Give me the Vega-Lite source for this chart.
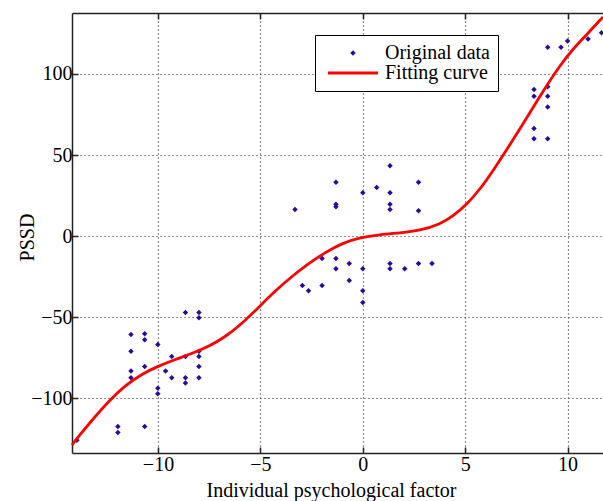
{
  "$schema": "https://vega.github.io/schema/vega-lite/v6.json",
  "autosize": {"type": "none"},
  "padding": {"left": 72, "top": 13, "right": 0, "bottom": 48},
  "width": 531,
  "height": 440,
  "background": "white",
  "config": {
    "view": {"stroke": null},
    "font": "Liberation Serif",
    "axis": {
      "labelFont": "Liberation Serif",
      "labelFontSize": 20,
      "labelColor": "black",
      "titleFont": "Liberation Serif",
      "titleFontSize": 20,
      "titleFontWeight": "normal",
      "titleColor": "black",
      "domainColor": "#222",
      "domainWidth": 1.5,
      "tickColor": "#222",
      "tickWidth": 1.5,
      "tickSize": -6,
      "gridColor": "#222",
      "gridDash": [1, 3],
      "gridWidth": 1.2,
      "gridOpacity": 1
    },
    "legend": {
      "labelFont": "Liberation Serif",
      "labelFontSize": 20,
      "labelColor": "black"
    }
  },
  "datasets": {
    "pts": [
      {"x": -11.32, "y": -60.6, "series": "Original data"},
      {"x": -11.32, "y": -70.9, "series": "Original data"},
      {"x": -11.32, "y": -83.2, "series": "Original data"},
      {"x": -11.32, "y": -87.3, "series": "Original data"},
      {"x": -10.65, "y": -60.2, "series": "Original data"},
      {"x": -10.65, "y": -63.9, "series": "Original data"},
      {"x": -10.65, "y": -80.4, "series": "Original data"},
      {"x": -10.01, "y": -66.8, "series": "Original data"},
      {"x": -10.01, "y": -93.7, "series": "Original data"},
      {"x": -10.01, "y": -97.2, "series": "Original data"},
      {"x": -9.63, "y": -83.2, "series": "Original data"},
      {"x": -9.33, "y": -74.2, "series": "Original data"},
      {"x": -9.33, "y": -87.3, "series": "Original data"},
      {"x": -8.66, "y": -47.1, "series": "Original data"},
      {"x": -8.66, "y": -74.2, "series": "Original data"},
      {"x": -8.66, "y": -87.3, "series": "Original data"},
      {"x": -8.66, "y": -90.6, "series": "Original data"},
      {"x": -8.0, "y": -47.1, "series": "Original data"},
      {"x": -8.0, "y": -50.3, "series": "Original data"},
      {"x": -8.0, "y": -70.9, "series": "Original data"},
      {"x": -8.0, "y": -74.2, "series": "Original data"},
      {"x": -8.0, "y": -80.4, "series": "Original data"},
      {"x": -8.0, "y": -87.3, "series": "Original data"},
      {"x": -11.96, "y": -117.3, "series": "Original data"},
      {"x": -11.96, "y": -121.0, "series": "Original data"},
      {"x": -10.65, "y": -117.3, "series": "Original data"},
      {"x": -13.96, "y": -125.8, "series": "Original data"},
      {"x": -3.31, "y": 16.4, "series": "Original data"},
      {"x": -1.31, "y": 33.3, "series": "Original data"},
      {"x": -1.31, "y": 19.7, "series": "Original data"},
      {"x": -1.31, "y": 18.1, "series": "Original data"},
      {"x": 0.0, "y": 26.7, "series": "Original data"},
      {"x": 0.68, "y": 30.0, "series": "Original data"},
      {"x": 1.33, "y": 43.4, "series": "Original data"},
      {"x": 1.33, "y": 26.7, "series": "Original data"},
      {"x": 1.33, "y": 19.7, "series": "Original data"},
      {"x": 1.33, "y": 16.4, "series": "Original data"},
      {"x": 2.72, "y": 33.3, "series": "Original data"},
      {"x": 2.72, "y": 15.6, "series": "Original data"},
      {"x": -1.99, "y": -13.8, "series": "Original data"},
      {"x": -1.31, "y": -13.8, "series": "Original data"},
      {"x": -1.31, "y": -20.1, "series": "Original data"},
      {"x": -0.66, "y": -16.9, "series": "Original data"},
      {"x": -0.66, "y": -27.3, "series": "Original data"},
      {"x": 0.0, "y": -20.1, "series": "Original data"},
      {"x": 0.0, "y": -33.7, "series": "Original data"},
      {"x": 0.0, "y": -40.9, "series": "Original data"},
      {"x": -2.95, "y": -30.4, "series": "Original data"},
      {"x": -2.65, "y": -33.7, "series": "Original data"},
      {"x": -1.99, "y": -30.4, "series": "Original data"},
      {"x": 1.33, "y": -16.9, "series": "Original data"},
      {"x": 1.33, "y": -20.1, "series": "Original data"},
      {"x": 2.05, "y": -20.1, "series": "Original data"},
      {"x": 2.72, "y": -16.9, "series": "Original data"},
      {"x": 3.38, "y": -16.9, "series": "Original data"},
      {"x": 8.36, "y": 90.4, "series": "Original data"},
      {"x": 8.36, "y": 86.3, "series": "Original data"},
      {"x": 8.36, "y": 66.4, "series": "Original data"},
      {"x": 8.36, "y": 60.0, "series": "Original data"},
      {"x": 9.03, "y": 116.5, "series": "Original data"},
      {"x": 9.03, "y": 92.1, "series": "Original data"},
      {"x": 9.03, "y": 86.3, "series": "Original data"},
      {"x": 9.03, "y": 79.7, "series": "Original data"},
      {"x": 9.03, "y": 60.0, "series": "Original data"},
      {"x": 9.68, "y": 116.5, "series": "Original data"},
      {"x": 10.0, "y": 120.4, "series": "Original data"},
      {"x": 11.0, "y": 121.6, "series": "Original data"},
      {"x": 11.66, "y": 125.4, "series": "Original data"}
    ],
    "curve": [
      {"x": -14.2, "y": -128.8},
      {"x": -14.03, "y": -125.8},
      {"x": -13.22, "y": -113.4},
      {"x": -12.4, "y": -101.6},
      {"x": -11.59, "y": -91.9},
      {"x": -10.78, "y": -84.9},
      {"x": -9.96, "y": -80.0},
      {"x": -9.15, "y": -76.0},
      {"x": -8.33, "y": -72.3},
      {"x": -7.52, "y": -68.0},
      {"x": -6.71, "y": -62.1},
      {"x": -5.89, "y": -53.8},
      {"x": -5.08, "y": -43.8},
      {"x": -4.27, "y": -33.6},
      {"x": -3.45, "y": -24.7},
      {"x": -2.64, "y": -16.8},
      {"x": -1.82, "y": -9.9},
      {"x": -1.01, "y": -4.4},
      {"x": -0.2, "y": -1.0},
      {"x": 0.84, "y": 1.0},
      {"x": 1.82, "y": 2.0},
      {"x": 2.79, "y": 3.5},
      {"x": 3.77, "y": 7.3},
      {"x": 4.42, "y": 12.5},
      {"x": 5.08, "y": 19.6},
      {"x": 5.73, "y": 29.0},
      {"x": 6.38, "y": 40.7},
      {"x": 7.03, "y": 53.3},
      {"x": 7.68, "y": 66.4},
      {"x": 8.33, "y": 79.7},
      {"x": 8.98, "y": 92.9},
      {"x": 9.63, "y": 105.2},
      {"x": 10.28, "y": 115.7},
      {"x": 10.94, "y": 124.3},
      {"x": 11.73, "y": 135.2}
    ]
  },
  "layer": [
    {
      "data": {"name": "pts"},
      "mark": {"type": "point", "shape": "diamond", "filled": true, "size": 30, "opacity": 1},
      "encoding": {
        "x": {
          "field": "x", "type": "quantitative",
          "scale": {"domain": [-14.2, 11.73], "nice": false, "zero": false},
          "axis": {
            "orient": "bottom",
            "values": [-10, -5, 0, 5, 10],
            "grid": true,
            "labelPadding": 7,
            "title": "Individual psychological factor",
            "titleX": 259,
            "titleY": 43,
            "titleBaseline": "alphabetic",
            "titleAnchor": null
          }
        },
        "y": {
          "field": "y", "type": "quantitative",
          "scale": {"domain": [-133.7, 137.6], "nice": false, "zero": false},
          "axis": {
            "orient": "left",
            "values": [-100, -50, 0, 50, 100],
            "grid": true,
            "labelPadding": 6,
            "title": "PSSD",
            "titleX": -39,
            "titleY": 224,
            "titleBaseline": "alphabetic",
            "titleAngle": -90
          }
        },
        "color": {
          "field": "series", "type": "nominal",
          "scale": {"domain": ["Original data", "Fitting curve"], "range": ["#2b0a9a", "#ff0000"]},
          "legend": {
            "title": null,
            "orient": "none",
            "legendX": 243,
            "legendY": 22,
            "direction": "vertical",
            "strokeColor": "black",
            "fillColor": "white",
            "padding": 8,
            "symbolType": {"expr": "datum.value === 'Fitting curve' ? 'stroke' : 'diamond'"},
            "symbolSize": {"expr": "datum.value === 'Fitting curve' ? 2500 : 30"},
            "symbolStrokeWidth": {"expr": "datum.value === 'Fitting curve' ? 3 : 0"},
            "symbolStrokeColor": {"expr": "datum.value === 'Fitting curve' ? '#ff0000' : '#2b0a9a'"},
            "symbolOffset": 20,
            "labelOffset": 22,
            "labelExpr": "datum.label + '\u00a0\u00a0'",
            "rowPadding": 0
          }
        }
      }
    },
    {
      "data": {"name": "curve"},
      "mark": {"type": "line", "strokeWidth": 2.8, "interpolate": "basis", "color": "#ff0000"},
      "encoding": {
        "x": {
          "field": "x", "type": "quantitative",
          "axis": {
            "orient": "top",
            "values": [-10, -5, 0, 5, 10],
            "grid": false,
            "labels": false,
            "title": null
          }
        },
        "y": {"field": "y", "type": "quantitative"}
      }
    }
  ],
  "resolve": {"axis": {"x": "independent"}}
}
